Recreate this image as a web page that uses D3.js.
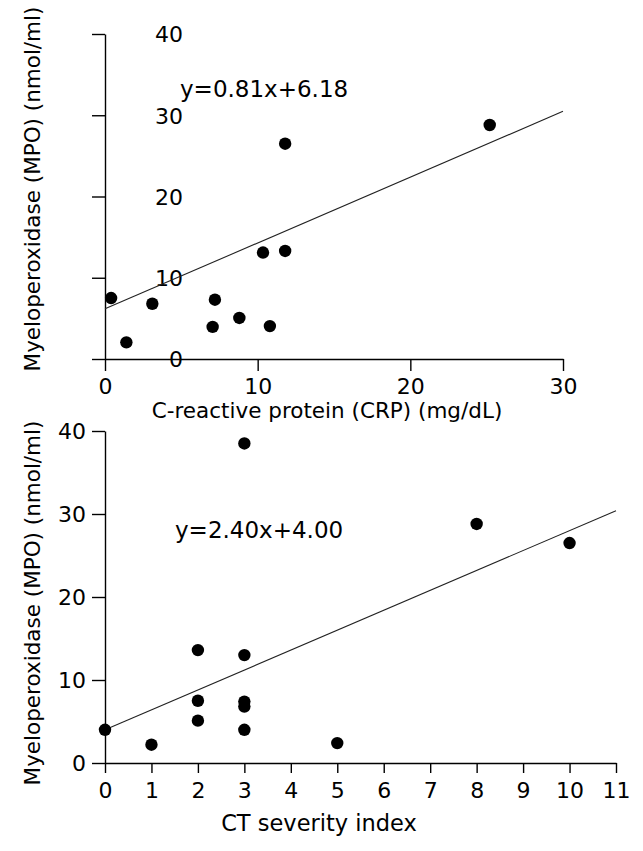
<!DOCTYPE html>
<html><head><meta charset="utf-8">
<script src="https://cdn.jsdelivr.net/npm/d3@7"></script>
<style>
body{margin:0;background:#fff;}
text{font-family:"DejaVu Sans",Verdana,sans-serif;fill:#000;}
</style></head>
<body><svg id="c" width="643" height="851"></svg>
<script>
// Top panel: CRP vs MPO
const crpX = [0.4, 1.4, 3.1, 7.2, 7.05, 8.8, 10.8, 10.35, 11.8, 11.8, 25.2];
const crpY = [7.5, 2.05, 6.8, 7.3, 3.95, 5.05, 4.05, 13.1, 13.3, 26.5, 28.8];
const crpTicksX = [0, 10, 20, 30];
const mpoTicks = [0, 10, 20, 30, 40];
const crpFit = {slope: 0.81, intercept: 6.18, label: "y=0.81x+6.18"};
// Bottom panel: CT severity index vs MPO
const ctX = [0, 1, 2, 2, 2, 3, 3, 3, 3, 3, 5, 8, 10];
const ctY = [4.0, 2.2, 13.6, 7.5, 5.1, 38.5, 13.0, 7.4, 6.8, 4.0, 2.4, 28.8, 26.5];
const ctTicksX = [0,1,2,3,4,5,6,7,8,9,10,11];
const ctFit = {slope: 2.40, intercept: 4.00, label: "y=2.40x+4.00"};
const yTitle = "Myeloperoxidase (MPO) (nmol/ml)";

const svg = d3.select("#c");
const FS = 22;

function panel(o){
  const x = d3.scaleLinear().domain(o.xDomain).range([o.x0, o.x1]);
  const y = d3.scaleLinear().domain([0, 40]).range([o.y0, o.y1]);
  const g = svg.append("g");
  // axes
  const ya = g.append("g").attr("transform", `translate(${o.x0},0)`)
    .call(d3.axisLeft(y).tickValues(mpoTicks).tickSize(13).tickSizeOuter(0).tickPadding(6));
  const xa = g.append("g").attr("transform", `translate(0,${o.y0})`)
    .call(d3.axisBottom(x).tickValues(o.xTicks).tickSize(o.xTickLen).tickSizeOuter(0).tickPadding(o.xPad));
  [ya, xa].forEach(a => {
    a.select(".domain").attr("stroke", "#000").attr("stroke-width", 1.4);
    a.selectAll(".tick line").attr("stroke", "#000").attr("stroke-width", 1.4);
    a.selectAll("text").attr("font-size", FS).attr("font-family", '"DejaVu Sans",Verdana,sans-serif').attr("fill", "#000");
  });
  ya.selectAll(".tick text").attr("x", o.yLabX).attr("dy", "0.36em");
  // fit line
  const f = o.fit;
  const xd = o.xDomain;
  g.append("line")
    .attr("x1", x(xd[0])).attr("y1", y(f.intercept + f.slope * xd[0]))
    .attr("x2", x(xd[1])).attr("y2", y(f.intercept + f.slope * xd[1]))
    .attr("stroke", "#222").attr("stroke-width", 1.1);
  // points
  g.selectAll("circle.p").data(o.xs.map((v, i) => [v, o.ys[i]])).enter()
    .append("circle").attr("class", "p")
    .attr("cx", d => x(d[0])).attr("cy", d => y(d[1])).attr("r", 6.2).attr("fill", "#000");
  // equation
  g.append("text").attr("x", o.eqX).attr("y", o.eqY).attr("font-size", 23).text(f.label);
  // titles
  g.append("text").attr("x", o.xtX).attr("y", o.xtY).attr("text-anchor", "middle")
    .attr("font-size", o.xtFS).text(o.xTitle);
  g.append("text").attr("transform", `translate(40,${o.ytY}) rotate(-90)`)
    .attr("text-anchor", "middle").attr("font-size", 21.5).text(yTitle);
}

panel({
  xDomain: [0, 30], x0: 105, x1: 563, y0: 359, y1: 34,
  xTicks: crpTicksX, xTickLen: 12, xPad: 7,
  yLabX: 78, xs: crpX, ys: crpY, fit: crpFit,
  eqX: 180, eqY: 97, xTitle: "C-reactive protein (CRP) (mg/dL)", xtFS: 21.5, xtX: 327, xtY: 418, ytY: 189
});
panel({
  xDomain: [0, 11], x0: 105, x1: 616, y0: 763, y1: 431,
  xTicks: ctTicksX, xTickLen: 10, xPad: 9,
  yLabX: -19, xs: ctX, ys: ctY, fit: ctFit,
  eqX: 175, eqY: 538, xTitle: "CT severity index", xtFS: 22.5, xtX: 319, xtY: 831, ytY: 603
});
</script></body></html>
